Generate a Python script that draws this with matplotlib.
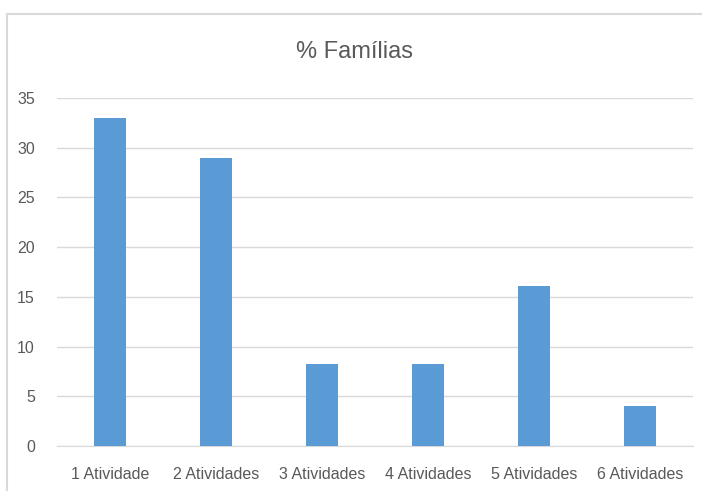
import matplotlib.pyplot as plt
from matplotlib.patches import Rectangle

categories = ['1 Atividade', '2 Atividades', '3 Atividades', '4 Atividades', '5 Atividades', '6 Atividades']
values = [33.0, 29.0, 8.2, 8.2, 16.1, 4.0]
yticks = [0, 5, 10, 15, 20, 25, 30, 35]

plt.rcParams['font.family'] = ['Liberation Sans', 'DejaVu Sans']

W, H = 702, 491
fig = plt.figure(figsize=(W / 100, H / 100), dpi=100)

# outer chart border (Excel style), cut by the image edge
fig.patches.append(Rectangle((7 / W, -0.1), 1.1, 1 - 14 / H + 0.1, transform=fig.transFigure,
                             fill=False, edgecolor='#d9d9d9', linewidth=1.5))

ax = fig.add_axes([57 / W, 1 - 446 / H, (693 - 57) / W, (446 - 98) / H])
x = range(len(categories))
ax.bar(x, values, width=0.31, color='#5b9bd5', zorder=3)

ax.set_ylim(0, 35)
ax.set_xlim(-0.5, len(categories) - 0.5)
ax.set_yticks(yticks)
ax.set_xticks(list(x))
ax.set_xticklabels(categories)
ax.yaxis.grid(True, color='#d9d9d9', linewidth=1, zorder=0)
for s in ['top', 'right', 'left']:
    ax.spines[s].set_visible(False)
ax.spines['bottom'].set_color('#d9d9d9')
ax.tick_params(length=0, colors='#595959', labelsize=11.5)
ax.tick_params(axis='x', pad=15)
ax.tick_params(axis='y', pad=16)

fig.text(0.5 + 7 / W / 2, 1 - 52 / H, '% Famílias', ha='center', va='center',
         fontsize=17, color='#595959')

fig.savefig('out.png', dpi=100)
